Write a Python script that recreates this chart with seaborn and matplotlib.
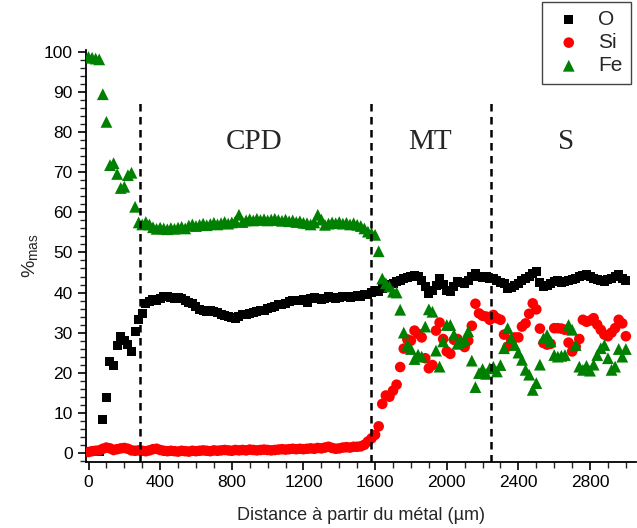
import matplotlib
matplotlib.use("Agg")
import matplotlib.pyplot as plt
from matplotlib.ticker import MultipleLocator
import seaborn as sns

# distance from the metal (µm), one analysis every 20 µm
distance = list(range(0, 3001, 20))

o_mas = [
    0.2, 0.3, 0.3, 0.4, 8.4, 13.9, 22.8, 21.7, 26.7, 29.0,
    28.0, 27.0, 25.3, 30.3, 33.2, 34.8, 37.3, 37.8, 38.2, 38.0,
    38.6, 38.9, 39.0, 38.8, 38.6, 38.7, 38.4, 38.0, 37.6, 37.2,
    36.5, 35.8, 35.5, 35.3, 35.4, 35.2, 34.9, 34.6, 34.3, 34.0,
    33.7, 33.5, 33.9, 34.4, 34.6, 34.8, 34.9, 35.2, 35.4, 35.6,
    35.9, 36.3, 36.6, 36.9, 37.1, 37.3, 37.8, 38.1, 37.9, 38.0,
    38.3, 37.6, 38.4, 38.8, 38.5, 38.2, 38.6, 39.0, 38.7, 38.5,
    38.8, 39.1, 38.9, 38.7, 39.0, 39.2, 39.0, 39.4, 39.6, 40.0,
    40.6, 40.3, 41.0, 41.5, 42.0, 42.3, 42.7, 43.0, 43.5, 43.8,
    44.1, 44.2, 44.1, 43.1, 41.5, 39.8, 40.6, 41.8, 43.5, 41.9,
    40.6, 40.2, 41.5, 42.7, 42.5, 42.3, 43.1, 44.0, 44.8, 44.0,
    43.8, 44.0, 43.6, 43.5, 43.1, 42.6, 42.3, 41.1, 41.3, 41.8,
    42.3, 43.0, 43.5, 44.0, 44.8, 45.2, 42.6, 41.5, 41.8, 42.3,
    42.7, 42.9, 42.6, 42.7, 43.0, 43.3, 43.5, 44.0, 44.3, 44.4,
    44.0, 43.5, 43.3, 43.0, 42.7, 43.2, 43.6, 44.0, 44.4, 43.6,
    43.1,
]

si_mas = [
    0.2, 0.4, 0.5, 0.6, 1.0, 1.3, 1.1, 0.7, 0.9, 1.1,
    1.2, 1.0, 0.6, 0.5, 0.6, 0.5, 0.4, 0.6, 0.9, 1.0,
    0.7, 0.5, 0.4, 0.5, 0.4, 0.3, 0.5, 0.4, 0.3, 0.5,
    0.4, 0.5, 0.6, 0.5, 0.4, 0.6, 0.5, 0.6, 0.7, 0.6,
    0.5, 0.7, 0.6, 0.7, 0.6, 0.8, 0.7, 0.6, 0.7, 0.8,
    0.7, 0.6, 0.7, 0.8, 0.9, 0.8, 0.9, 1.0, 0.9, 1.0,
    0.9, 1.0, 1.1, 1.0, 1.2, 1.1, 1.3, 1.5, 1.2, 1.0,
    1.1, 1.3, 1.4, 1.3, 1.5, 1.5, 1.6, 2.0, 2.8, 3.6,
    4.5, 6.6, 12.2, 14.3, 14.0, 15.5, 17.0, 21.4, 26.0, 28.3,
    28.0, 30.5, 29.7, 28.8, 23.6, 21.1, 21.9, 30.5, 32.5, 28.4,
    25.3, 24.7, 28.2, 28.4, 27.4, 26.4, 28.0, 31.7, 37.2, 34.8,
    34.2, 34.0, 33.2, 34.4, 33.6, 33.2, 29.5, 26.5, 28.2, 28.8,
    28.8, 31.5, 32.3, 34.7, 37.3, 35.8, 31.0, 27.4, 27.0, 27.2,
    31.1, 31.1, 31.0, 30.7, 27.5, 25.3, 26.5, 28.4, 33.2, 32.7,
    33.0, 33.6, 32.0, 30.7, 29.5, 29.1, 30.0, 31.1, 33.2, 32.3,
    29.1,
]

fe_mas = [
    98.8, 98.6, 98.4, 98.2, 89.5, 82.6, 71.8, 72.3, 69.6, 66.1,
    66.4, 69.3, 69.9, 61.4, 57.5, 57.0, 57.6, 57.0, 56.3, 55.9,
    56.2, 56.0, 55.8, 56.1, 55.9, 56.2, 56.4, 56.0, 56.7, 57.0,
    56.6, 56.9, 57.2, 56.8, 57.1, 57.4, 57.0, 57.3, 57.6, 57.2,
    57.5, 57.8, 59.4, 57.6, 58.0, 58.3, 58.0, 58.4, 58.1, 58.3,
    58.0, 58.2, 58.4, 58.1, 57.9, 58.2, 57.8, 58.0, 57.6, 57.8,
    57.4, 57.3, 57.0, 57.5, 59.4, 58.2, 56.9, 57.2, 57.5, 57.3,
    57.6, 57.2, 57.4, 57.0, 57.3, 56.9, 56.6, 56.0, 55.2, 54.8,
    54.4, 50.3, 43.5, 42.3, 41.5, 40.2, 40.0, 35.7, 30.0, 26.9,
    25.9, 23.4, 24.5, 24.0, 31.5, 35.8, 35.2, 25.5, 21.5, 27.8,
    31.9, 31.9, 29.5, 27.2, 27.8, 28.2, 30.3, 23.0, 16.4, 19.9,
    20.9, 19.7, 21.1, 21.5, 20.3, 21.9, 26.1, 31.1, 28.6, 26.9,
    25.0, 23.2, 20.7, 19.5, 15.7, 17.4, 22.0, 28.6, 29.4, 27.8,
    24.4, 24.0, 24.2, 24.4, 31.9, 30.7, 26.9, 21.5, 20.7, 21.7,
    20.5, 22.0, 24.4, 26.1, 26.9, 23.6, 20.7, 21.5, 25.9, 24.0,
    25.9,
]

# zone boundaries (µm) and zone names
boundaries = [290, 1575, 2245]
zones = ["CPD", "MT", "S"]
zone_x = [925, 1905, 2665]

sns.set_style("ticks")
plt.rcParams["font.family"] = ["Liberation Sans", "DejaVu Sans"]
plt.rcParams["mathtext.default"] = "regular"

fig, ax = plt.subplots(figsize=(6.37, 5.28), dpi=100)
fig.subplots_adjust(left=0.135, right=0.998, bottom=0.125, top=0.905)

sns.scatterplot(x=distance, y=o_mas, marker="s", color="black", s=42,
                edgecolor="none", label="O", ax=ax, zorder=3)
sns.scatterplot(x=distance, y=si_mas, marker="o", color="#ff0000", s=58,
                edgecolor="none", label="Si", ax=ax, zorder=4)
sns.scatterplot(x=distance, y=fe_mas, marker="^", color="#008000", s=72,
                edgecolor="none", label="Fe", ax=ax, zorder=5)

ax.vlines(boundaries, -2.3, 87.5, colors="black", linestyles=(0, (3.0, 2.2)),
          linewidth=1.8, zorder=6)
for name, xz in zip(zones, zone_x):
    ax.text(xz, 77.6, name, ha="center", va="center", fontsize=21,
            family="Liberation Serif")

ax.set_xlim(-14, 3055)
ax.set_ylim(-2.3, 100.5)
ax.set_xticks(range(0, 2801, 400))
ax.set_yticks(range(0, 101, 10))
ax.xaxis.set_minor_locator(MultipleLocator(100))
ax.yaxis.set_minor_locator(MultipleLocator(2))
ax.tick_params(which="major", direction="out", length=6, width=1.2,
               labelsize=12.5, colors="black")
ax.tick_params(which="minor", direction="out", length=4, width=1.0)
sns.despine(ax=ax)
for sp in ["left", "bottom"]:
    ax.spines[sp].set_linewidth(1.3)
    ax.spines[sp].set_color("black")

ax.set_xlabel("Distance à partir du métal (µm)", fontsize=13, labelpad=12)
ax.set_ylabel("%$_{mas}$", fontsize=14, labelpad=3)

ax.legend_.remove()
handles, labels = ax.get_legend_handles_labels()
fig.legend(handles, labels, loc="upper right", bbox_to_anchor=(0.99, 0.997),
           borderaxespad=0, frameon=True, fancybox=False, edgecolor="#444444",
           fontsize=15, handletextpad=0.5, labelspacing=0.2, borderpad=0.4,
           handlelength=1.8, framealpha=1)

fig.savefig("out.png", dpi=100)
